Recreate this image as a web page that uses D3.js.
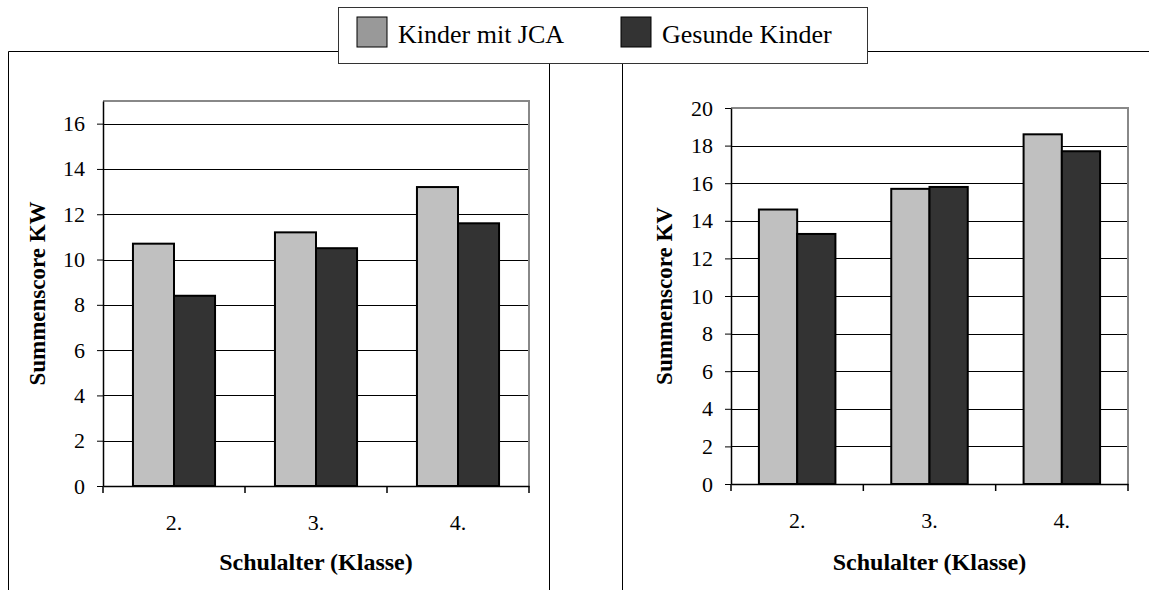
<!DOCTYPE html>
<html>
<head>
<meta charset="utf-8">
<script src="https://cdn.jsdelivr.net/npm/d3@7"></script>
<style>
  body { margin: 0; background: #fff; }
  svg { display: block; }
</style>
</head>
<body>
<svg id="chart" width="1149" height="590"></svg>
<script>
// data
const categories = ["2.", "3.", "4."];
const seriesNames = ["Kinder mit JCA", "Gesunde Kinder"];
const kwJca = [10.7, 11.2, 13.2];
const kwGesund = [8.4, 10.5, 11.6];
const kvJca = [14.6, 15.7, 18.6];
const kvGesund = [13.3, 15.8, 17.7];
const kwTicks = [0, 2, 4, 6, 8, 10, 12, 14, 16];
const kvTicks = [0, 2, 4, 6, 8, 10, 12, 14, 16, 18, 20];

const barColors = ["#c0c0c0", "#333333"];
const legendColors = ["#999999", "#333333"];
const serif = "'Liberation Serif', 'Times New Roman', Times, serif";

const svg = d3.select("#chart");

// outer panel frames
svg.append("path")
  .attr("d", "M8.5,590 V51.5 H549.5 V590")
  .attr("fill", "none").attr("stroke", "#000").attr("stroke-width", 1);
svg.append("path")
  .attr("d", "M622.5,590 V51.5 H1149")
  .attr("fill", "none").attr("stroke", "#000").attr("stroke-width", 1);

function drawPanel(cfg) {
  const g = svg.append("g");
  const x = d3.scaleBand().domain(categories).range([cfg.left, cfg.right]);
  const xs = d3.scaleBand().domain(seriesNames).range([0, x.bandwidth()]).paddingOuter(0.73);
  const y = d3.scaleLinear().domain([0, cfg.max]).range([cfg.bottom, cfg.top]);

  // grid lines
  g.append("g").selectAll("line")
    .data(cfg.ticks.filter(t => t > 0 && t < cfg.max))
    .join("line")
    .attr("x1", cfg.left).attr("x2", cfg.right)
    .attr("y1", d => Math.round(y(d)) + 0.5).attr("y2", d => Math.round(y(d)) + 0.5)
    .attr("stroke", "#000").attr("stroke-width", 1);

  // plot frame (grey top and right)
  g.append("path")
    .attr("d", `M${cfg.left},${cfg.top} H${cfg.right} V${cfg.bottom}`)
    .attr("fill", "none").attr("stroke", "#888").attr("stroke-width", 2);

  // bars
  const rows = categories.map((c, i) => ({ c, vals: [cfg.a[i], cfg.b[i]] }));
  g.append("g").selectAll("g")
    .data(rows)
    .join("g")
    .attr("transform", d => `translate(${x(d.c)},0)`)
    .selectAll("rect")
    .data(d => d.vals.map((v, k) => ({ s: seriesNames[k], v, k })))
    .join("rect")
    .attr("x", d => xs(d.s))
    .attr("y", d => y(d.v))
    .attr("width", xs.bandwidth())
    .attr("height", d => y(0) - y(d.v))
    .attr("fill", d => barColors[d.k])
    .attr("stroke", "#000").attr("stroke-width", 2);

  // y axis
  const ya = g.append("g")
    .attr("transform", `translate(${cfg.left},0)`)
    .call(d3.axisLeft(y).tickValues(cfg.ticks).tickSize(6).tickPadding(12).tickSizeOuter(0));
  ya.select(".domain").attr("stroke", "#000").attr("stroke-width", 1.5);
  ya.selectAll("text").style("font-family", serif).style("font-size", "22px").attr("fill", "#000");

  // x axis: labels centred, ticks at band edges
  const xa = g.append("g")
    .attr("transform", `translate(0,${cfg.bottom})`)
    .call(d3.axisBottom(x).tickSize(0).tickPadding(28).tickSizeOuter(0));
  xa.select(".domain").attr("stroke", "#000").attr("stroke-width", 1.5);
  xa.selectAll("text").style("font-family", serif).style("font-size", "22px").attr("fill", "#000");
  g.append("g").selectAll("line")
    .data(categories.map(c => x(c)).concat([cfg.right]))
    .join("line")
    .attr("x1", d => d).attr("x2", d => d)
    .attr("y1", cfg.bottom).attr("y2", cfg.bottom + 7)
    .attr("stroke", "#000").attr("stroke-width", 1.5);

  // titles
  g.append("text")
    .attr("x", (cfg.left + cfg.right) / 2).attr("y", 570)
    .attr("text-anchor", "middle")
    .style("font-family", serif).style("font-weight", "bold").style("font-size", "24px")
    .text("Schulalter (Klasse)");
  g.append("text")
    .attr("transform", `translate(${cfg.yTitleX},${(cfg.top + cfg.bottom) / 2}) rotate(-90)`)
    .attr("text-anchor", "middle").attr("dy", "0.35em")
    .style("font-family", serif).style("font-weight", "bold").style("font-size", "23px")
    .text(cfg.yTitle);
}

drawPanel({ left: 103, right: 529, top: 101, bottom: 486, max: 17, ticks: kwTicks,
  a: kwJca, b: kwGesund, yTitle: "Summenscore KW", yTitleX: 37 });
drawPanel({ left: 731, right: 1128, top: 108, bottom: 484, max: 20, ticks: kvTicks,
  a: kvJca, b: kvGesund, yTitle: "Summenscore KV", yTitleX: 664 });

// legend
const lg = svg.append("g");
lg.append("rect").attr("x", 338.5).attr("y", 7.5).attr("width", 529).attr("height", 56)
  .attr("fill", "#fff").attr("stroke", "#333").attr("stroke-width", 1);
const items = lg.selectAll("g.item")
  .data(seriesNames)
  .join("g").attr("class", "item")
  .attr("transform", (d, i) => `translate(${i === 0 ? 357 : 621},17)`);
items.append("rect").attr("width", 30).attr("height", 30)
  .attr("fill", (d, i) => legendColors[i]).attr("stroke", "#000").attr("stroke-width", 1);
items.append("text").attr("x", 41).attr("y", 26)
  .style("font-family", serif).style("font-size", "26px").text(d => d);
</script>
</body>
</html>
